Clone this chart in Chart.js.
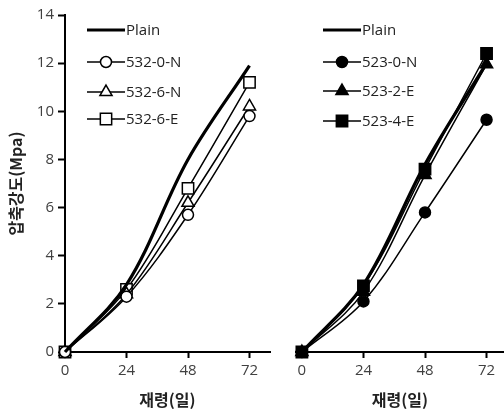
<!DOCTYPE html>
<html>
<head>
<meta charset="utf-8">
<script src="https://cdn.jsdelivr.net/npm/chart.js@4"></script>
<style>
    body { margin: 0; background: #fff; }
    #wrap { position: relative; width: 504px; height: 412px; }
    canvas { position: absolute; top: 0; }
</style>
</head>
<body>
<div id="wrap">
    <canvas id="left-chart" width="283" height="412" style="left:0"></canvas>
    <canvas id="right-chart" width="221" height="412" style="left:283px"></canvas>
</div>
<script>
// ages (days) and tick labels
const ages = [0, 24, 48, 72];
const xTicks = [0, 24, 48, 72];
const yTicks = [0, 2, 4, 6, 8, 10, 12, 14];

// left panel (open markers)
const leftLabels = ['Plain', '532-0-N', '532-6-N', '532-6-E'];
const leftPlain = [0, 2.8, 8.0, 11.9];
const left532_0N = [0, 2.3, 5.7, 9.8];
const left532_6N = [0, 2.4, 6.2, 10.2];
const left532_6E = [0, 2.6, 6.8, 11.2];

// right panel (filled markers)
const rightLabels = ['Plain', '523-0-N', '523-2-E', '523-4-E'];
const rightPlain = [0, 2.8, 7.8, 12.0];
const right523_0N = [0, 2.1, 5.8, 9.65];
const right523_2E = [0, 2.5, 7.35, 11.95];
const right523_4E = [0, 2.75, 7.6, 12.4];

const yTitle = '압축강도(Mpa)';
const xTitle = '재령(일)';

Chart.defaults.font.family = "'Open Sans', 'Noto Sans CJK KR', sans-serif";
Chart.defaults.color = '#404040';

// draws the legend inside the plot
const insideLegend = {
    id: 'insideLegend',
    afterDatasetsDraw(chart, args, opts) {
        const ctx = chart.ctx;
        ctx.save();
        chart.data.datasets.forEach((ds, i) => {
            const y = opts.rows[i];
            const x0 = opts.x;
            const x1 = opts.x + opts.lineLength;
            ctx.strokeStyle = '#000';
            ctx.lineWidth = ds.borderWidth;
            ctx.beginPath();
            ctx.moveTo(x0, y);
            ctx.lineTo(x1, y);
            ctx.stroke();
            if (ds.pointRadius > 0) {
                ctx.fillStyle = ds.pointBackgroundColor;
                ctx.strokeStyle = '#000';
                ctx.lineWidth = ds.pointBorderWidth;
                Chart.helpers.drawPoint(ctx, {
                    pointStyle: ds.pointStyle,
                    radius: ds.pointRadius,
                    borderWidth: ds.pointBorderWidth
                }, (x0 + x1) / 2, y);
            }
            ctx.fillStyle = '#222';
            ctx.font = "15px 'Open Sans', sans-serif";
            ctx.textBaseline = 'middle';
            ctx.textAlign = 'left';
            ctx.fillText(ds.label, x1 + 1, y + 1);
        });
        ctx.restore();
    }
};

function makeSeries(label, values, style, fill) {
    const isPlain = style === null;
    let radius = 5.5;
    if (style === 'rect') radius = 8;
    if (style === 'triangle') radius = 7;
    return {
        label: label,
        data: ages.map((a, i) => ({ x: a, y: values[i] })),
        borderColor: '#000',
        borderWidth: isPlain ? 3.2 : 1.5,
        pointStyle: isPlain ? 'circle' : style,
        pointRadius: isPlain ? 0 : radius,
        pointBackgroundColor: fill,
        pointBorderColor: '#000',
        pointBorderWidth: 1.5,
        tension: 0.35,
        clip: false
    };
}

function axisX(min, max) {
    return {
        type: 'linear',
        min: min,
        max: max,
        afterBuildTicks: s => { s.ticks = xTicks.map(v => ({ value: v })); },
        afterFit: s => {
            s.height = 60;
            s.paddingLeft = 0;
            s.paddingRight = 0;
        },
        border: { display: true, color: '#000', width: 2 },
        grid: { drawOnChartArea: false, drawTicks: true, tickLength: 6, tickColor: '#000', tickWidth: 2 },
        ticks: { font: { size: 15 }, padding: 4, color: '#404040' },
        title: {
            display: true,
            text: xTitle,
            color: '#222',
            font: { size: 16, weight: 'bold', family: "'Noto Sans CJK KR', sans-serif" },
            padding: { top: 0, bottom: 2 }
        }
    };
}

function axisY(show) {
    return {
        display: show,
        min: 0,
        max: 14,
        afterBuildTicks: s => { s.ticks = yTicks.map(v => ({ value: v })); },
        afterFit: s => { s.width = show ? 65 : 0; },
        border: { display: true, color: '#000', width: 2 },
        grid: { drawOnChartArea: false, drawTicks: true, tickLength: 7, tickColor: '#000', tickWidth: 2 },
        ticks: { font: { size: 15 }, padding: 4, color: '#404040' },
        title: {
            display: true,
            text: yTitle,
            color: '#222',
            font: { size: 16, weight: 'bold', family: "'Noto Sans CJK KR', sans-serif" },
            padding: { top: 6, bottom: 0 }
        }
    };
}

function buildOptions(padLeft, padRight, xMin, xMax, showY, legendX, legendRows) {
    return {
        responsive: false,
        animation: false,
        devicePixelRatio: 1,
        layout: {
            autoPadding: false,
            padding: { top: 15, left: padLeft, right: padRight, bottom: 0 }
        },
        plugins: {
            legend: { display: false },
            tooltip: { enabled: false },
            insideLegend: { x: legendX, lineLength: 38, rows: legendRows }
        },
        scales: {
            x: axisX(xMin, xMax),
            y: axisY(showY)
        }
    };
}

const leftChart = new Chart(document.getElementById('left-chart').getContext('2d'), {
    type: 'line',
    data: {
        datasets: [
            makeSeries(leftLabels[0], leftPlain, null, '#000'),
            makeSeries(leftLabels[1], left532_0N, 'circle', '#fff'),
            makeSeries(leftLabels[2], left532_6N, 'triangle', '#fff'),
            makeSeries(leftLabels[3], left532_6E, 'rect', '#fff')
        ]
    },
    options: buildOptions(0, 13, 0, 80, true, 87, [30, 62, 92, 119]),
    plugins: [insideLegend]
});

const rightChart = new Chart(document.getElementById('right-chart').getContext('2d'), {
    type: 'line',
    data: {
        datasets: [
            makeSeries(rightLabels[0], rightPlain, null, '#000'),
            makeSeries(rightLabels[1], right523_0N, 'circle', '#000'),
            makeSeries(rightLabels[2], right523_2E, 'triangle', '#000'),
            makeSeries(rightLabels[3], right523_4E, 'rect', '#000')
        ]
    },
    options: buildOptions(13, 0, -2.3, 78.8, false, 40, [30, 62, 91, 121]),
    plugins: [insideLegend]
});
</script>
</body>
</html>
